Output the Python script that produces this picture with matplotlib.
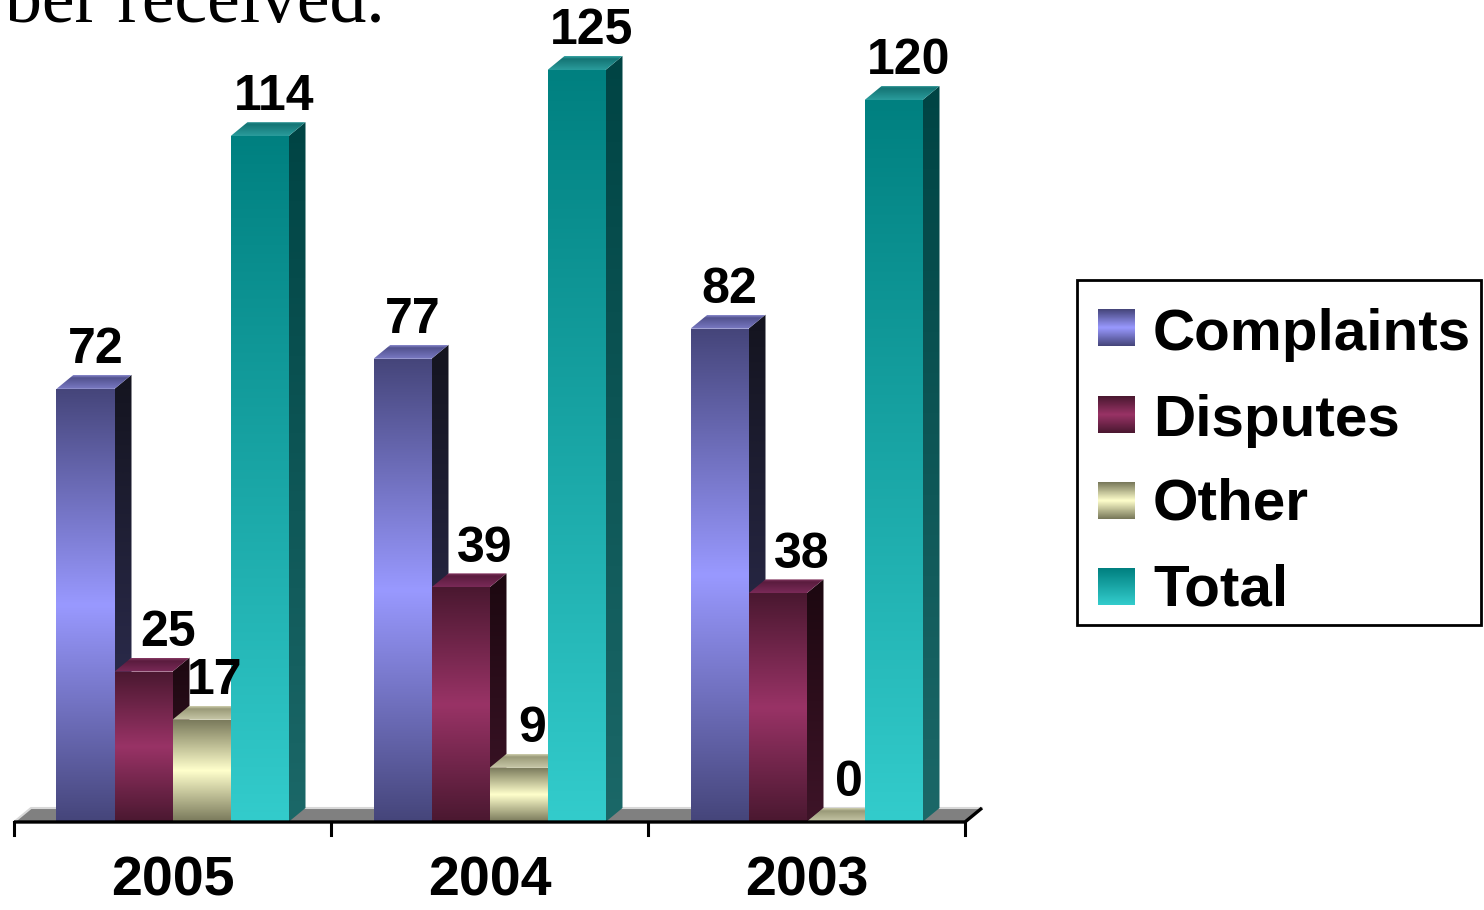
import numpy as np
import matplotlib.pyplot as plt
from matplotlib.colors import LinearSegmentedColormap
from matplotlib.patches import Polygon, Rectangle

plt.rcParams['font.family'] = ['Liberation Sans', 'DejaVu Sans']

years = ['2005', '2004', '2003']
series = ['Complaints', 'Disputes', 'Other', 'Total']
complaints = [72, 77, 82]
disputes = [25, 39, 38]
other = [17, 9, 0]
total = [114, 125, 120]
values = [complaints, disputes, other, total]

# gradient stops (0 = bottom / front, 1 = top / back) for each face
front_stops = [
    [(0, '#45457a'), (0.5, '#9999ff'), (1, '#45457a')],
    [(0, '#4a1830'), (0.5, '#993366'), (1, '#4a1830')],
    [(0, '#78785a'), (0.5, '#ffffcc'), (1, '#78785a')],
    [(0, '#33cccc'), (1, '#008080')],
]
side_stops = [
    [(0, '#34345e'), (1, '#14141f')],
    [(0, '#3e1428'), (1, '#1c0810')],
    [(0, '#5a5a40'), (1, '#3a3a28')],
    [(0, '#1b6868'), (1, '#004444')],
]
top_stops = [
    [(0, '#7a7ac4'), (0.8, '#52528f'), (1, '#8c8cd0')],
    [(0, '#7a2a58'), (0.8, '#5a1c3e'), (1, '#8a3a66')],
    [(0, '#c8c8a8'), (0.8, '#9a9a78'), (1, '#d0d0b0')],
    [(0, '#2a9c9c'), (0.8, '#147474'), (1, '#3aa8a8')],
]
label_nudge = [0.005, 0.05, 0.015, 0.02]

# pixel scale of the plot area
PX = 6.016   # pixels per value unit
UX = 317.0   # pixels per year group
DX = 17 / UX
DY = 14 / PX
W = 58 / UX

fig = plt.figure(figsize=(14.84, 9.10), dpi=100)
ax = fig.add_axes([0, 0, 1, 1])
ax.set_autoscale_on(False)
ax.set_xlim(-0.5 - 14 / UX, -0.5 + (1484 - 14) / UX)
ax.set_ylim(-(910 - 822) / PX, 822 / PX)
ax.axis('off')

z = [10]


def shade(axis, verts, stops, lo, hi):
    poly = Polygon(verts, closed=True, facecolor='none', edgecolor='none')
    axis.add_patch(poly)
    cmap = LinearSegmentedColormap.from_list('g', stops)
    grad = np.linspace(0, 1, 256).reshape(-1, 1)
    xs = [v[0] for v in verts]
    im = axis.imshow(grad, cmap=cmap, origin='lower', aspect='auto',
                     extent=(min(xs), max(xs), lo, hi),
                     interpolation='bilinear', zorder=z[0])
    im.set_clip_path(poly)
    z[0] += 1


# floor
ax.add_patch(Polygon([(-0.5, 0), (2.5, 0), (2.5 + DX, DY), (-0.5 + DX, DY)],
                     closed=True, facecolor='#808080', edgecolor='none', zorder=2))
ax.plot([-0.5, -0.5 + DX, 2.5 + DX], [0, DY, DY], color='#d8d8d8', lw=1.5, zorder=3)

for g in range(len(years)):
    for s in range(len(series)):
        h = values[s][g]
        l = g + (s - 2) * W
        r = l + W
        # right side
        shade(ax, [(r, 0), (r + DX, DY), (r + DX, h + DY), (r, h)],
              side_stops[s], 0, h + DY)
        # top
        shade(ax, [(l, h), (r, h), (r + DX, h + DY), (l + DX, h + DY)],
              top_stops[s], h, h + DY)
        # front
        if h > 0:
            shade(ax, [(l, 0), (r, 0), (r, h), (l, h)], front_stops[s], 0, h)
        ax.text((l + r) / 2 + DX / 2 + label_nudge[s], h + DY + 0.3, str(h),
                ha='center', va='bottom', fontsize=36, fontweight='bold',
                zorder=200)

# category axis
ax.plot([-0.5, 2.5, 2.5 + DX], [0, 0, DY], color='black', lw=2.4,
        zorder=150, solid_capstyle='butt')
for t in [-0.5, 0.5, 1.5, 2.5]:
    ax.plot([t, t], [0, -13 / PX], color='black', lw=2.2, zorder=150)
for g, yr in enumerate(years):
    ax.text(g, -86 / PX, yr, ha='center', va='bottom', fontsize=40,
            fontweight='bold')

# legend and heading in pixel coordinates
lg = fig.add_axes([0, 0, 1, 1])
lg.set_autoscale_on(False)
lg.set_xlim(0, 1484)
lg.set_ylim(910, 0)
lg.axis('off')
lg.add_patch(Rectangle((1077, 280), 404, 345, facecolor='none',
                       edgecolor='black', lw=2))
sw_tops = [309, 396, 482, 568]
baselines = [350, 436, 520, 606]
for s, name in enumerate(series):
    cmap = LinearSegmentedColormap.from_list('g', front_stops[s])
    grad = np.linspace(0, 1, 64).reshape(-1, 1)
    lg.imshow(grad, cmap=cmap, origin='lower', aspect='auto',
              extent=(1098, 1135, sw_tops[s] + 37, sw_tops[s]),
              interpolation='bilinear')
    lg.text(1153, baselines[s], name, ha='left', va='baseline',
            fontsize=42, fontweight='bold')

lg.text(385, 22, 'ber received.', ha='right', va='baseline', fontsize=53,
        family=['Liberation Serif', 'DejaVu Serif'])

fig.savefig('out.png', dpi=100)
